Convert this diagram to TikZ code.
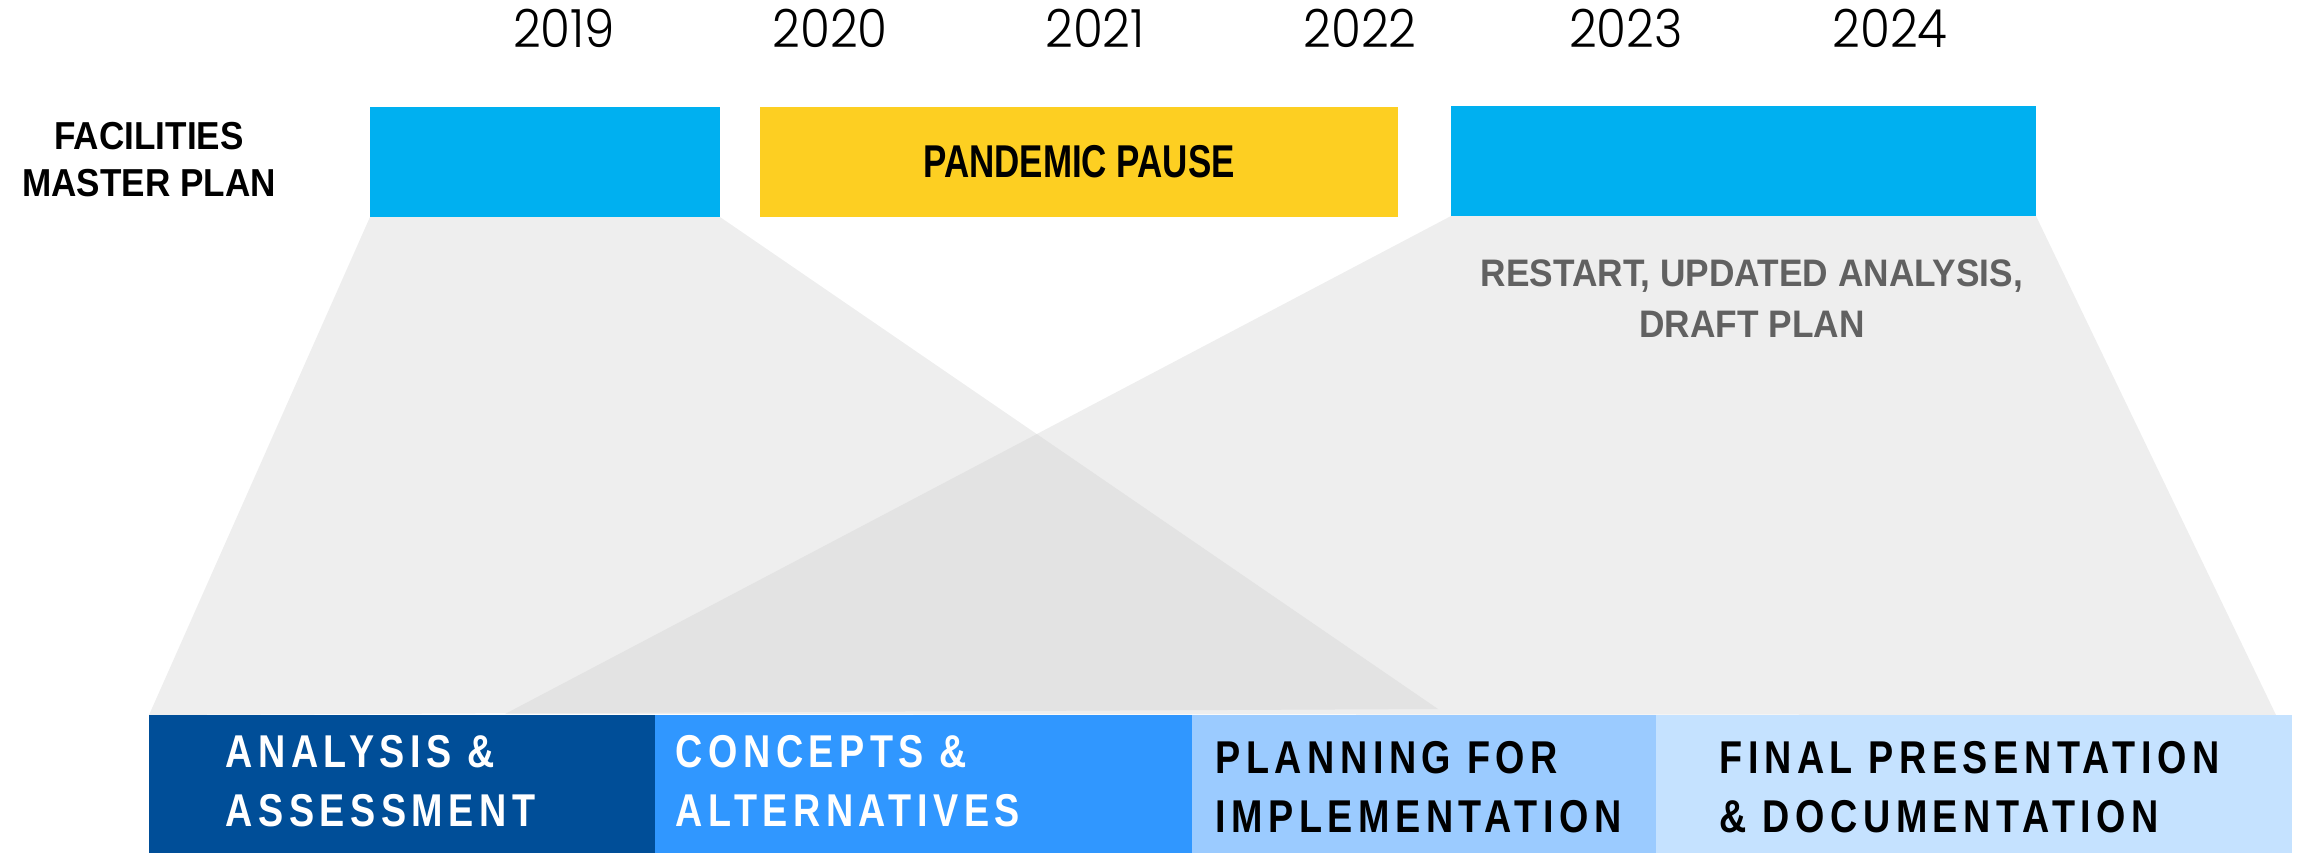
\documentclass[tikz,border=0pt]{standalone}
\usepackage{fontspec}
\setmainfont{Liberation Sans}
\IfFontExistsTF{Poppins Light}{\newfontfamily\yearfont[FakeStretch=0.92]{Poppins Light}}{\newfontfamily\yearfont[FakeStretch=0.92]{Poppins}}
\newfontfamily\fmpfont[FakeStretch=0.9]{Liberation Sans}
\newfontfamily\pausefont[FakeStretch=0.76]{Liberation Sans}
\newfontfamily\restartfont[FakeStretch=0.92]{Liberation Sans}
\newfontfamily\phasefont[FakeStretch=0.82,LetterSpace=12]{Liberation Sans}
\usetikzlibrary{calc}
\definecolor{cyanbox}{HTML}{00B0F0}
\definecolor{pauseyellow}{HTML}{FDCF22}
\definecolor{segA}{HTML}{004E98}
\definecolor{segB}{HTML}{3097FF}
\definecolor{segC}{HTML}{9BCBFF}
\definecolor{segD}{HTML}{C5E2FF}
\definecolor{grayA}{HTML}{EEEEEE}
\definecolor{grayB}{HTML}{E3E3E3}
\definecolor{textgray}{HTML}{616161}
\pgfdeclarelayer{background}
\pgfsetlayers{background,main}
\begin{document}
\begin{tikzpicture}[x=0.3pt,y=-0.3pt,
  bar/.style={inner sep=0,outer sep=0,anchor=north west,minimum height=33pt},
  phase/.style={inner sep=0,outer sep=0,anchor=north west,minimum height=41.4pt},
  year/.style={font=\yearfont\fontsize{15.8}{18}\selectfont,anchor=base,inner sep=0},
  phaselabel/.style={anchor=west,align=left,inner sep=0,font=\phasefont\bfseries\fontsize{13.8}{17.7}\selectfont}
]
\useasboundingbox (0,0) rectangle (2308,853);

% years
\node[year] (y2019) at (564,47) {2019};
\node[year] (y2020) at (830,47) {2020};
\node[year] (y2021) at (1095,47) {2021};
\node[year] (y2022) at (1360,47) {2022};
\node[year] (y2023) at (1626,47) {2023};
\node[year] (y2024) at (1890,47) {2024};

% row label
\node[align=center,inner sep=0,font=\fmpfont\bfseries\fontsize{11.7}{14.1}\selectfont] (fmp) at (149,159.5) {FACILITIES\\MASTER PLAN};

% top bars
\node[bar,fill=cyanbox,minimum width=105pt] (b1) at (370,107) {};
\node[bar,fill=pauseyellow,minimum width=191.4pt,font=\pausefont\bfseries\fontsize{13.8}{16}\selectfont] (b2) at (760,107) {PANDEMIC PAUSE};
\node[bar,fill=cyanbox,minimum width=175.5pt] (b3) at (1451,106) {};

% phase bar
\node[phase,fill=segA,minimum width=151.8pt] (s1) at (149,715) {};
\node[phase,fill=segB,minimum width=161.1pt] (s2) at (655,715) {};
\node[phase,fill=segC,minimum width=139.2pt] (s3) at (1192,715) {};
\node[phase,fill=segD,minimum width=190.8pt] (s4) at (1656,715) {};

\node[phaselabel,text=white] (l1) at (225,781) {ANALYSIS \&\\ASSESSMENT};
\node[phaselabel,text=white] (l2) at (675,781) {CONCEPTS \&\\ALTERNATIVES};
\node[phaselabel,text=black] (l3) at (1215,787) {PLANNING FOR\\IMPLEMENTATION};
\node[phaselabel,text=black] (l4) at (1719,787) {FINAL PRESENTATION\\\& DOCUMENTATION};

% restart note
\node[align=center,inner sep=0,text=textgray,font=\restartfont\bfseries\fontsize{11.5}{15.3}\selectfont] (note) at (1752,299) {RESTART, UPDATED ANALYSIS,\\DRAFT PLAN};

% funnel shapes
\coordinate (aR) at (1438,709);
\coordinate (bL) at (505,714);
\coordinate (bR) at (2276,715);
\begin{pgfonlayer}{background}
\fill[grayA] (b1.south west) -- (b1.south east) -- (aR) -- (s1.north west) -- cycle;
\fill[grayA] (b3.south west) -- (b3.south east) -- (bR) -- (bL) -- cycle;
\begin{scope}
\clip (b1.south west) -- (b1.south east) -- (aR) -- (s1.north west) -- cycle;
\fill[grayB] (b3.south west) -- (b3.south east) -- (bR) -- (bL) -- cycle;
\end{scope}
\end{pgfonlayer}
\end{tikzpicture}
\end{document}
